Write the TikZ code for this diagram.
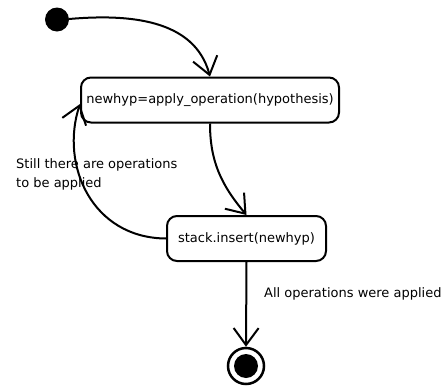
\documentclass[tikz,border=0pt]{standalone}
\usepackage{fontspec}
\setmainfont{DejaVu Sans}
\usetikzlibrary{arrows.meta}
\begin{document}
\begin{tikzpicture}[x=1pt,y=-1pt,
  every node/.style={font=\fontsize{13}{19}\selectfont},
  state/.style={draw,line width=2pt,rounded corners=10pt,minimum height=45pt,inner sep=0pt},
  trans/.style={line width=2pt,-{Straight Barb[length=17pt,width=25pt,line width=2pt]}},
  lbl/.style={inner sep=0pt,align=left}]
\useasboundingbox (0,0) rectangle (448,389);
\fill (57,19.5) circle (12) coordinate (init);
\node[state,minimum width=258pt] (b1) at (210,100) {newhyp=apply\_operation(hypothesis)};
\node[state,minimum width=159pt] (b2) at (246.5,238.5) {stack.insert(newhyp)};
\node[circle,draw,line width=2.5pt,minimum size=36pt,inner sep=0pt] (fin) at (246,366) {};
\fill (fin.center) circle (12);
\node[lbl,anchor=north west] (l1) at (16,158) {Still there are operations\\to be applied};
\node[lbl,anchor=west] (l2) at (264,294) {All operations were applied};
\draw[trans] (69,19) to[out=5,in=105] (b1.north);
\draw[trans] (b1.south) to[out=-90,in=130] (b2.north);
\draw[trans] (b2.west) .. controls (92,238) and (60,165) .. (b1.west|-0,104);
\draw[trans] (b2.south) -- (fin.north);
\end{tikzpicture}
\end{document}
